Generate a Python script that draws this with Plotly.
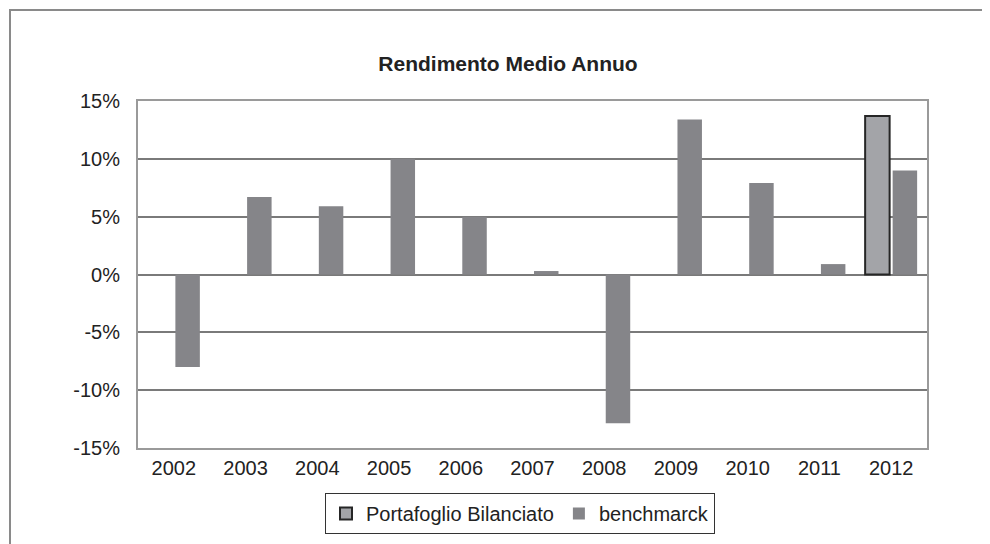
import plotly.graph_objects as go

years = ["2002", "2003", "2004", "2005", "2006", "2007", "2008", "2009", "2010", "2011", "2012"]
portafoglio = [None, None, None, None, None, None, None, None, None, None, 13.7]
benchmark = [-8.0, 6.7, 5.9, 10.0, 5.0, 0.3, -12.85, 13.4, 7.9, 0.9, 9.0]
y_ticks = [-15, -10, -5, 0, 5, 10, 15]
y_tick_labels = ["-15%", "-10%", "-5%", "0%", "5%", "10%", "15%"]

# page body has an 8px margin, so figure coordinates are offset by 8px
OFF = 8
W, H = 990, 544
ML, MT = 138 - OFF, 101 - OFF
pw, ph = 789, 347
MR = W - ML - pw
MB = H - MT - ph

font_family = "Arial, Liberation Sans, sans-serif"

fig = go.Figure()
fig.add_trace(go.Bar(
    name="Portafoglio Bilanciato", x=years, y=portafoglio,
    marker=dict(color="#a3a4a8", line=dict(color="#262626", width=2)),
))
fig.add_trace(go.Bar(
    name="benchmarck", x=years, y=benchmark,
    marker=dict(color="#858589", line=dict(width=0)),
))

fig.update_layout(
    width=W, height=H,
    margin=dict(l=ML, r=MR, t=MT, b=MB),
    paper_bgcolor="white", plot_bgcolor="white",
    barmode="group", bargap=0.233, bargroupgap=0.11,
    font=dict(family=font_family, size=20, color="#222222"),
    title=dict(
        text="<b>Rendimento Medio Annuo</b>",
        font=dict(family=font_family, size=21, color="#222222"),
        xref="container", x=(508 - OFF) / W, xanchor="center",
        yref="container", y=1 - (64 - OFF) / H, yanchor="middle",
    ),
    showlegend=True,
    legend=dict(
        orientation="h",
        xref="paper", x=(520 - 138) / pw, xanchor="center",
        yref="paper", y=-(493 - 448) / ph, yanchor="top",
        bordercolor="#333333", borderwidth=1,
        font=dict(family=font_family, size=20, color="#222222"),
        itemwidth=30,
    ),
    xaxis=dict(
        type="category", showgrid=False,
        showline=True, linecolor="#9a9a9a", linewidth=2, mirror=True,
        ticks="", tickfont=dict(size=20, color="#222222"),
        ticklabelstandoff=1,
    ),
    yaxis=dict(
        range=[-15, 15], tickvals=y_ticks, ticktext=y_tick_labels,
        showgrid=True, gridcolor="#7a7a7a", gridwidth=1.5,
        zeroline=True, zerolinecolor="#7a7a7a", zerolinewidth=1.5,
        showline=True, linecolor="#9a9a9a", linewidth=2, mirror=True,
        ticks="", tickfont=dict(size=20, color="#222222"),
        ticklabelstandoff=12,
    ),
    shapes=[dict(
        type="rect", xref="paper", yref="paper",
        x0=(10 - 138) / pw, x1=2.0, y0=-3.0, y1=1 + (101 - 10) / ph,
        line=dict(color="#8a8a8a", width=2), fillcolor="rgba(0,0,0,0)", layer="below",
    )],
)

fig.write_html("out.html")
